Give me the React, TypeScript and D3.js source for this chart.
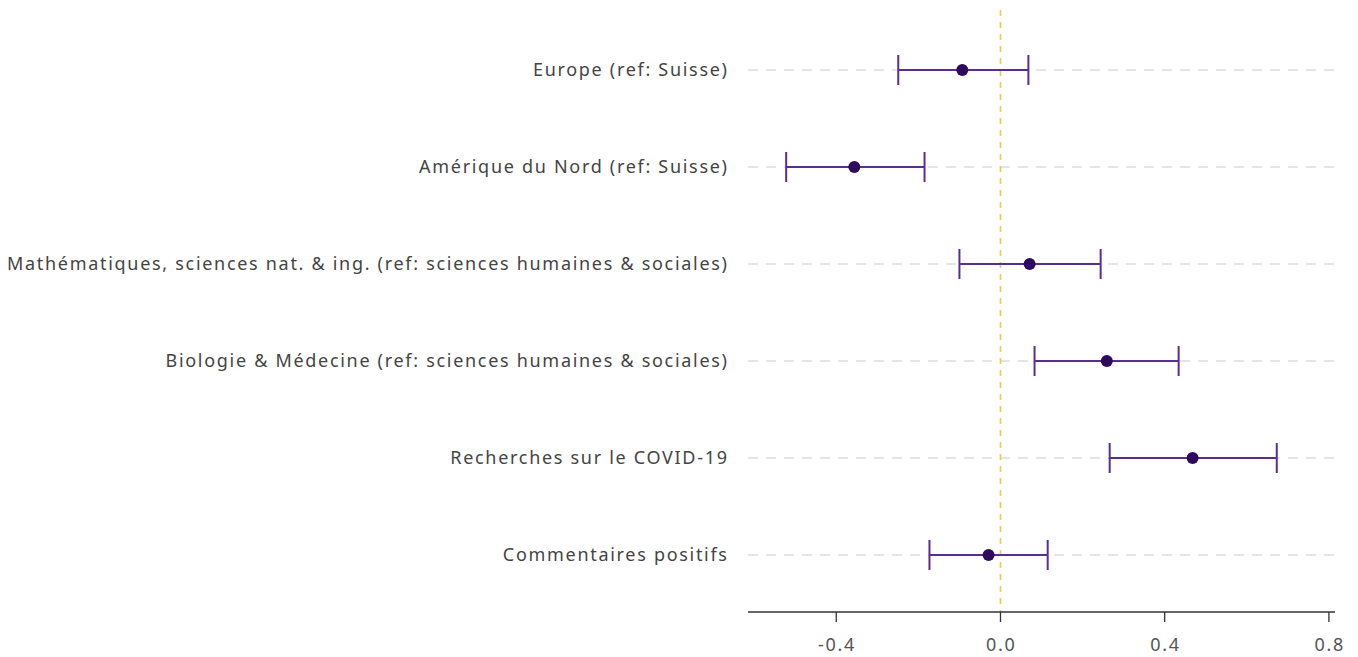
import React from "react";
import * as d3 from "d3";

const categories = [
  "Europe (ref: Suisse)",
  "Amérique du Nord (ref: Suisse)",
  "Mathématiques, sciences nat. & ing. (ref: sciences humaines & sociales)",
  "Biologie & Médecine (ref: sciences humaines & sociales)",
  "Recherches sur le COVID-19",
  "Commentaires positifs",
];
const estimates = [-0.093, -0.356, 0.071, 0.259, 0.468, -0.029];
const lower = [-0.249, -0.522, -0.1, 0.083, 0.266, -0.173];
const upper = [0.068, -0.185, 0.244, 0.434, 0.673, 0.115];
const tickValues = [-0.4, 0.0, 0.4, 0.8];

const W = 1358;
const H = 657;
const margin = { left: 748, right: 25, top: 21, bottom: 45 };

export default function App() {
  const x = d3.scaleLinear().domain([-0.615, 0.81]).range([margin.left, W - margin.right - 0]);
  const y = d3
    .scalePoint<string>()
    .domain(categories)
    .range([70, 555]);
  const axisY = 612;
  const font = "'Noto Sans', sans-serif";
  const purple = "#5a2d91";
  const dot = "#2e0a5f";
  const ls = 1.7;
  return (
    <svg width={W} height={H} style={{ position: "absolute", left: 0, top: 0, background: "#fff" }}>
      {categories.map((c) => (
        <line key={"g" + c} x1={x.range()[0]} x2={x.range()[1] + 2} y1={y(c)} y2={y(c)} stroke="#dddddd" strokeWidth={1.3} strokeDasharray="10,8" />
      ))}
      <line x1={x(0)} x2={x(0)} y1={10} y2={axisY} stroke="#f0c94a" strokeWidth={1.6} strokeDasharray="6,6" />
      <line x1={x.range()[0]} x2={x.range()[1] + 2} y1={axisY} y2={axisY} stroke="#333" strokeWidth={1.3} />
      {tickValues.map((t) => (
        <g key={t}>
          <line x1={x(t)} x2={x(t)} y1={axisY} y2={axisY + 10} stroke="#333" strokeWidth={1.3} />
          <text x={x(t) + ls / 2} y={651} textAnchor="middle" fontFamily={font} fontSize={18} letterSpacing={ls} fill="#555">
            {t.toFixed(1)}
          </text>
        </g>
      ))}
      {categories.map((c, i) => {
        const yy = y(c)!;
        return (
          <g key={c}>
            <text x={727 + ls} y={yy + 6} textAnchor="end" fontFamily={font} fontSize={18} letterSpacing={ls} fill="#444">
              {c}
            </text>
            <line x1={x(lower[i])} x2={x(upper[i])} y1={yy} y2={yy} stroke={purple} strokeWidth={2} />
            <line x1={x(lower[i])} x2={x(lower[i])} y1={yy - 15} y2={yy + 15} stroke={purple} strokeWidth={2} />
            <line x1={x(upper[i])} x2={x(upper[i])} y1={yy - 15} y2={yy + 15} stroke={purple} strokeWidth={2} />
            <circle cx={x(estimates[i])} cy={yy} r={6} fill={dot} />
          </g>
        );
      })}
    </svg>
  );
}
